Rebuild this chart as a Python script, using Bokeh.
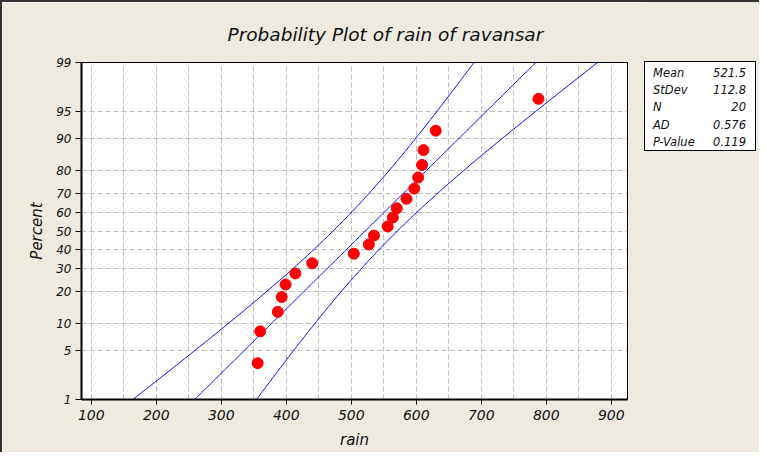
from statistics import NormalDist
import numpy as np
from bokeh.plotting import figure
from bokeh.layouts import row
from bokeh.models import (Range1d, FixedTicker, CustomJSTickFormatter, ColumnDataSource, Div)
from bokeh.embed import file_html
from bokeh.resources import INLINE

# ---- data ----
rain = [356, 360, 387, 393, 399, 414, 440, 504, 527, 535,
        556, 564, 570, 585, 597, 603, 609, 611, 630, 788]
percent = [3.4, 8.3, 13.2, 18.1, 23.0, 27.9, 32.8, 37.7, 42.6, 47.5,
           52.5, 57.4, 62.3, 67.2, 72.1, 77.0, 81.9, 86.8, 91.7, 96.6]
x_ticks = [100, 200, 300, 400, 500, 600, 700, 800, 900]
x_grid = [100, 150, 200, 250, 300, 350, 400, 450, 500, 550, 600,
          650, 700, 750, 800, 850, 900]
y_tick_pct = [1, 5, 10, 20, 30, 40, 50, 60, 70, 80, 90, 95, 99]
y_tick_labels = ["1", "5", "10", "20", "30", "40", "50", "60", "70", "80", "90", "95", "99"]
y_grid_pct = [5, 10, 20, 30, 40, 50, 60, 70, 80, 90, 95]
stat_names = ["Mean", "StDev", "N", "AD", "P-Value"]
stat_values = ["521.5", "112.8", "20", "0.576", "0.119"]
MEAN, SD, N = 521.5, 112.8, 20

nd = NormalDist()


def z(p):
    return nd.inv_cdf(p / 100.0)


# fitted line and 95% confidence band from Mean / StDev / N
zz = np.linspace(z(0.5), z(99.5), 300)
fit = MEAN + zz * SD
half = 1.959964 * SD * np.sqrt((1 + zz ** 2 / 2) / N)

FONT = "DejaVu Sans"
BG = "#EEEAE0"
TXT = "#111111"

p = figure(width=640, height=450,
           title="Probability Plot of rain of ravansar",
           x_range=Range1d(85, 925), y_range=Range1d(z(1), z(99)),
           output_backend="svg", toolbar_location=None,
           min_border_left=79, min_border_right=15,
           min_border_top=60, min_border_bottom=53,
           background_fill_color="white", border_fill_color=BG,
           outline_line_color="black", outline_line_width=1)

p.title.align = "left"
p.title.offset = 146
p.title.text_font = FONT
p.title.text_font_style = "italic"
p.title.text_font_size = "18.5px"
p.title.text_color = TXT
p.title.standoff = 36

# grid
p.xgrid.ticker = FixedTicker(ticks=x_grid)
p.ygrid.ticker = FixedTicker(ticks=[z(v) for v in y_grid_pct])
for g in (p.xgrid, p.ygrid):
    g.grid_line_color = "#BDBDBD"
    g.grid_line_dash = "5 3"
    g.grid_line_width = 1

# lines
p.line(fit, zz, line_color="#0000FF", line_width=1)
p.line(fit - half, zz, line_color="#0000FF", line_width=1)
p.line(fit + half, zz, line_color="#0000FF", line_width=1)

# points
src = ColumnDataSource(dict(x=rain, y=[z(v) for v in percent]))
p.scatter("x", "y", source=src, size=11, fill_color="#FF0000", line_color="#FF0000")

# axes
p.xaxis.ticker = FixedTicker(ticks=x_ticks)
p.yaxis.ticker = FixedTicker(ticks=[z(v) for v in y_tick_pct])
p.yaxis.formatter = CustomJSTickFormatter(
    args=dict(t=[z(v) for v in y_tick_pct], l=y_tick_labels),
    code="for (let i = 0; i < t.length; i++) { if (Math.abs(t[i] - tick) < 1e-6) return l[i]; } return '';")
for ax in (p.xaxis[0], p.yaxis[0]):
    ax.axis_line_width = 2
    ax.axis_line_color = "black"
    ax.major_tick_line_color = "black"
    ax.major_tick_in = 0
    ax.minor_tick_line_color = None
    ax.major_label_text_font = FONT
    ax.major_label_text_font_style = "italic"
    ax.major_label_text_color = TXT
    ax.axis_label_text_font = FONT
    ax.axis_label_text_font_style = "italic"
    ax.axis_label_text_color = TXT
    ax.axis_label_text_font_size = "15px"

p.xaxis.axis_label = "rain"
p.xaxis.major_tick_out = 5
p.xaxis.major_label_text_font_size = "14px"
p.xaxis.major_label_standoff = 5
p.xaxis.axis_label_standoff = 8

p.yaxis.axis_label = "Percent"
p.yaxis.major_tick_out = 6
p.yaxis.major_label_text_font_size = "12px"
p.yaxis.major_label_standoff = 4
p.yaxis.axis_label_standoff = 7

# stats box as an HTML panel to the right of the plot
rows_html = "".join(
    f'<div style="display:flex;justify-content:space-between;height:17.2px;line-height:17.2px;">'
    f'<span>{nm}</span><span>{vl}</span></div>'
    for nm, vl in zip(stat_names, stat_values))
stats_html = (
    f'<div style="position:relative;width:117px;height:450px;background:{BG};">'
    f'<div style="position:absolute;left:2px;top:59px;width:110px;height:88px;'
    f'border:1px solid black;background:white;box-sizing:content-box;'
    f'font-family:\'{FONT}\';font-style:italic;font-size:11.5px;color:{TXT};">'
    f'<div style="padding:3px 9px 0 8px;">{rows_html}</div></div></div>')
stats = Div(text=stats_html, width=117, height=450,
            styles={"background-color": BG, "margin": "0", "padding": "0"})

layout = row(p, stats, spacing=0,
             styles={"border-left": "2px solid #333333", "border-top": "2px solid #333333"})

open("out.html", "w").write(file_html(layout, INLINE))
